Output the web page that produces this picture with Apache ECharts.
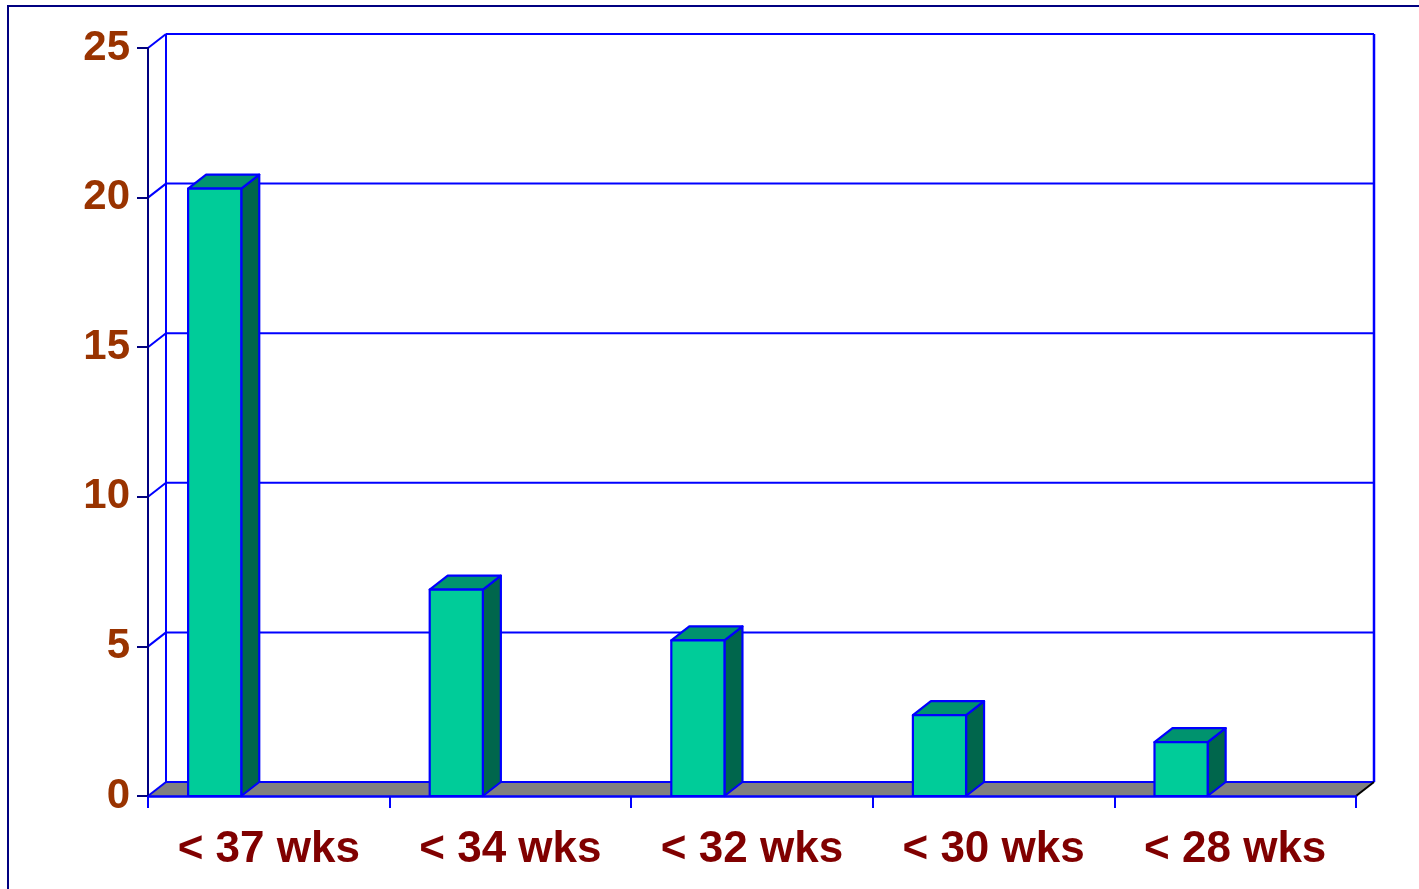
<!DOCTYPE html>
<html><head><meta charset="utf-8">
<script src="https://cdn.jsdelivr.net/npm/echarts@6/dist/echarts.min.js"></script>
<style>html,body{margin:0;padding:0;background:#fff}#c{width:1419px;height:889px}</style>
</head><body><div id="c"></div>
<script>
const categories = ['< 37 wks', '< 34 wks', '< 32 wks', '< 30 wks', '< 28 wks'];
const values = [20.3, 6.9, 5.2, 2.7, 1.8];
const yTicks = [0, 5, 10, 15, 20, 25];

const DX = 18, DY = -14;
const BLUE = '#0000FF', NAVY = '#000080';
const chart = echarts.init(document.getElementById('c'));

function frameRender(params, api) {
  const p0 = api.coord([0, 0]);
  const bw = api.size([1, 0])[0];
  const xL = p0[0] - bw / 2;
  const xR = api.coord([categories.length - 1, 0])[0] + bw / 2;
  const y0 = p0[1];
  const yTop = api.coord([0, yTicks[yTicks.length - 1]])[1];
  const ch = [];
  ch.push({type: 'polygon', shape: {points: [[xL, y0], [xR, y0], [xR + DX, y0 + DY], [xL + DX, y0 + DY]]}, style: {fill: '#808080'}});
  yTicks.forEach(t => {
    const y = api.coord([0, t])[1];
    ch.push({type: 'line', shape: {x1: xL + DX, y1: y + DY, x2: xR + DX, y2: y + DY}, style: {stroke: BLUE, lineWidth: 2}});
    ch.push({type: 'line', shape: {x1: xL, y1: y, x2: xL + DX, y2: y + DY}, style: {stroke: BLUE, lineWidth: 2}});
  });
  ch.push({type: 'line', shape: {x1: xL + DX, y1: yTop + DY, x2: xL + DX, y2: y0 + DY}, style: {stroke: BLUE, lineWidth: 2}});
  ch.push({type: 'line', shape: {x1: xR + DX, y1: yTop + DY, x2: xR + DX, y2: y0 + DY}, style: {stroke: BLUE, lineWidth: 2.5}});
  ch.push({type: 'line', shape: {x1: xR, y1: y0, x2: xR + DX, y2: y0 + DY}, style: {stroke: '#000000', lineWidth: 2}});
  return {type: 'group', children: ch};
}

function barRender(params, api) {
  const i = api.value(0), v = api.value(1);
  const top = api.coord([i, v]);
  const base = api.coord([i, 0]);
  const bw = api.size([1, 0])[0];
  const x1 = top[0] - bw / 2 + bw * 0.166;
  const x2 = x1 + bw * 0.22;
  const yT = top[1], yB = base[1];
  const st = {stroke: BLUE, lineWidth: 2.2, lineJoin: 'round'};
  return {type: 'group', children: [
    {type: 'polygon', shape: {points: [[x2, yT], [x2 + DX, yT + DY], [x2 + DX, yB + DY], [x2, yB]]}, style: Object.assign({fill: '#00664C'}, st)},
    {type: 'polygon', shape: {points: [[x1, yT], [x1 + DX, yT + DY], [x2 + DX, yT + DY], [x2, yT]]}, style: Object.assign({fill: '#00936E'}, st)},
    {type: 'rect', shape: {x: x1, y: yT, width: x2 - x1, height: yB - yT}, style: Object.assign({fill: '#00CC99'}, st)}
  ]};
}

chart.setOption({
  animation: false,
  backgroundColor: '#ffffff',
  graphic: [{type: 'rect', shape: {x: 8, y: 6, width: 1440, height: 920}, style: {fill: 'none', stroke: NAVY, lineWidth: 2}, z: 100}],
  grid: {left: 148, right: 63, top: 48, bottom: 93, containLabel: false},
  xAxis: {
    type: 'category', data: categories, boundaryGap: true, z: 10,
    axisLine: {show: true, lineStyle: {color: BLUE, width: 2.5}},
    axisTick: {show: true, length: 12, lineStyle: {color: BLUE, width: 2}},
    axisLabel: {interval: 0, margin: 32, color: '#800000', fontSize: 44, fontWeight: 'bold', fontFamily: 'Liberation Sans, Arial, sans-serif'},
    splitLine: {show: false}
  },
  yAxis: {
    type: 'value', min: 0, max: 25, interval: 5, z: 10,
    axisLine: {show: true, lineStyle: {color: NAVY, width: 2}},
    axisTick: {show: true, length: 11, lineStyle: {color: NAVY, width: 2}},
    axisLabel: {margin: 18, color: '#993300', fontSize: 42, fontWeight: 'bold', fontFamily: 'Liberation Sans, Arial, sans-serif'},
    splitLine: {show: false}
  },
  series: [
    {type: 'custom', name: 'frame', renderItem: frameRender, data: [[0, 0]], z: 1, silent: true},
    {type: 'custom', name: 'bars', renderItem: barRender, data: values.map((v, i) => [i, v]), z: 5}
  ]
});
</script></body></html>
